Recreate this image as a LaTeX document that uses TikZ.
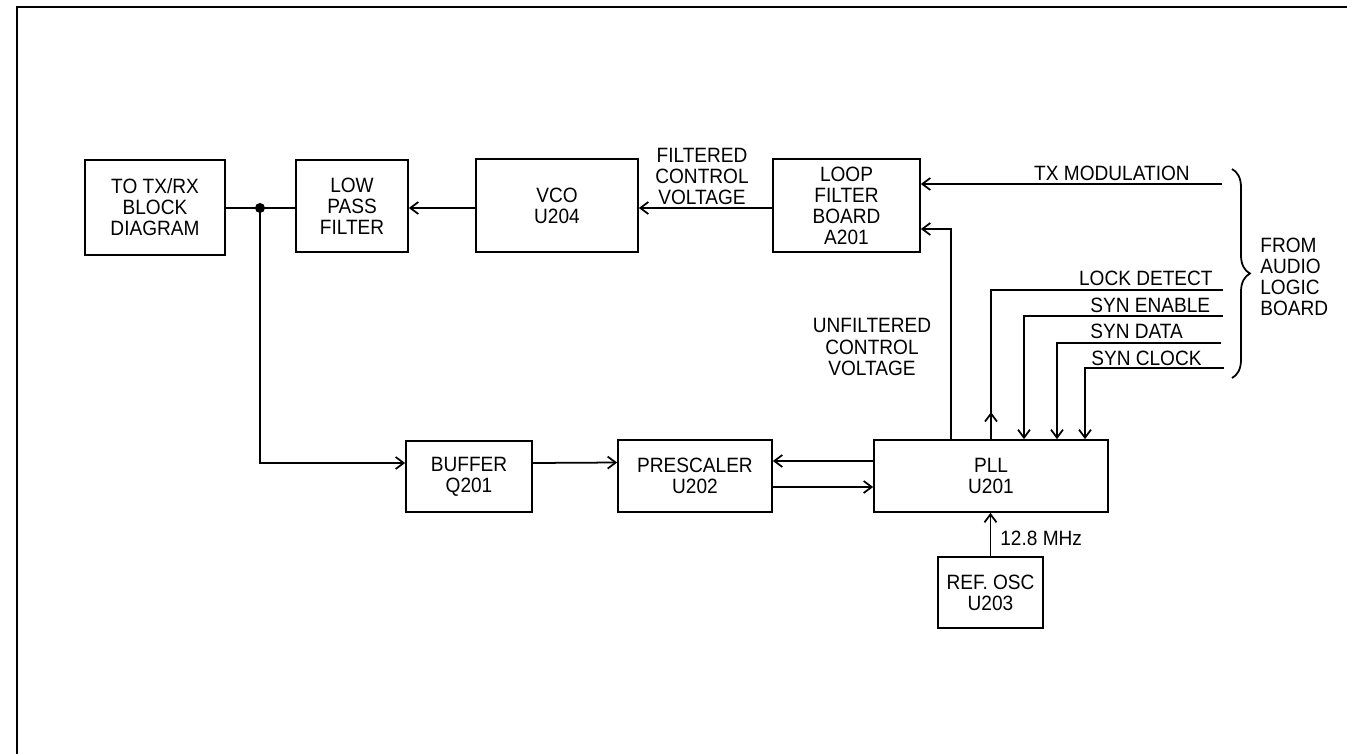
\documentclass[tikz,border=0pt]{standalone}
\usepackage{fontspec}
\setmainfont[FakeStretch=0.92]{Liberation Sans}
\usepackage{tikz}
\usetikzlibrary{positioning,arrows.meta,calc,decorations.pathreplacing}
\tikzset{
  box/.style={draw,line width=1pt,align=center,font=\fontsize{11.8}{12}\selectfont,inner sep=0pt},
  lbl/.style={font=\fontsize{11.8}{12}\selectfont,inner sep=0pt},
  sig/.style={line width=1pt},
  flow/.style={-{Straight Barb[length=1.6mm,width=2.4mm]},line width=1pt},
  frame/.style={line width=1.3pt},
}

\begin{document}
\begin{tikzpicture}[x=0.02cm,y=-0.02cm]
  \useasboundingbox (0,0) rectangle (1347,754);
  \draw[frame] (17,754) -- (17,7) -- (1347,7);
  % top row
  \node[box,minimum width=2.8cm,minimum height=1.9cm] (txrx) at (155,207.5) {TO TX/RX\\BLOCK\\DIAGRAM};
  \node[box,minimum width=2.24cm,minimum height=1.84cm] (lpf) at (352,206) {LOW\\PASS\\FILTER};
  \node[box,minimum width=3.24cm,minimum height=1.86cm] (vco) at (557,205.5) {VCO\\U204};
  \node[box,minimum width=2.94cm,minimum height=1.86cm] (loop) at (846.5,205.5) {LOOP\\FILTER\\BOARD\\A201};
  % bottom row
  \node[box,minimum width=2.52cm,minimum height=1.42cm] (buf) at (469,476.5) {BUFFER\\Q201};
  \node[box,minimum width=3.08cm,minimum height=1.44cm] (presc) at (695,476) {PRESCALER\\U202};
  \node[box,minimum width=4.68cm,minimum height=1.44cm] (pll) at (991,476) {PLL\\U201};
  \node[box,minimum width=2.1cm,minimum height=1.42cm] (ref) at (990.5,592.5) {REF. OSC\\U203};
  % labels
  \node[lbl,align=center,anchor=south] (fcv) at (702,205) {FILTERED\\CONTROL\\VOLTAGE};
  \node[lbl,align=center] (ucv) at (872,347) {UNFILTERED\\CONTROL\\VOLTAGE};
  \node[lbl,anchor=base east] (txl) at (1190,180) {TX MODULATION};
  \node[lbl,anchor=base east] (ldl) at (1213,285) {LOCK DETECT};
  \node[lbl,anchor=base west] (sel) at (1090,312) {SYN ENABLE};
  \node[lbl,anchor=base west] (sdl) at (1090,338) {SYN DATA};
  \node[lbl,anchor=base west] (scl) at (1091,365) {SYN CLOCK};
  \node[lbl,align=left,anchor=west] (alb) at (1260,277) {FROM\\AUDIO\\LOGIC\\BOARD};
  \node[lbl,anchor=base west] (mhz) at (1000,545) {12.8 MHz};
  % signal ends
  \coordinate (dot) at (260,208);
  \coordinate (uf) at (951,229);
  \coordinate (txm) at (1222,184);
  \coordinate (ld) at (1223,290);
  \coordinate (se) at (1223,316);
  \coordinate (sd) at (1221,343);
  \coordinate (sc) at (1224,368);
  % connectors
  \draw[sig] (txrx.east |- dot) -- (lpf.west |- dot);
  \fill (dot) circle[radius=0.1cm];
  \draw[flow] (vco.west |- dot) -- (lpf.east |- dot);
  \draw[flow] (loop.west |- dot) -- (vco.east |- dot);
  \draw[flow] (txm) -- (txm -| loop.east);
  \draw[flow] (pll.north -| uf) -- (uf) -- (uf -| loop.east);
  \draw[flow] (dot) |- ([yshift=0.27cm]buf.west);
  \draw[flow] ([yshift=0.27cm]buf.east) -- ([yshift=0.27cm]presc.west);
  \draw[flow] ([yshift=0.3cm]pll.west) -- ([yshift=0.3cm]presc.east);
  \draw[flow] ([yshift=-0.22cm]presc.east) -- ([yshift=-0.22cm]pll.west);
  \draw[sig] (ld) -| (pll.north);
  \draw[flow] (pll.north) -- ++(0,-27);
  \draw[flow] (se) -| ([xshift=0.66cm]pll.north);
  \draw[flow] (sd) -| ([xshift=1.32cm]pll.north);
  \draw[flow] (sc) -| ([xshift=1.88cm]pll.north);
  \draw[flow] (ref.north) -- (ref.north |- pll.south);
  \draw[sig,decorate,decoration={brace,amplitude=0.36cm}] (1232,169) -- (1232,378);
\end{tikzpicture}
\end{document}
